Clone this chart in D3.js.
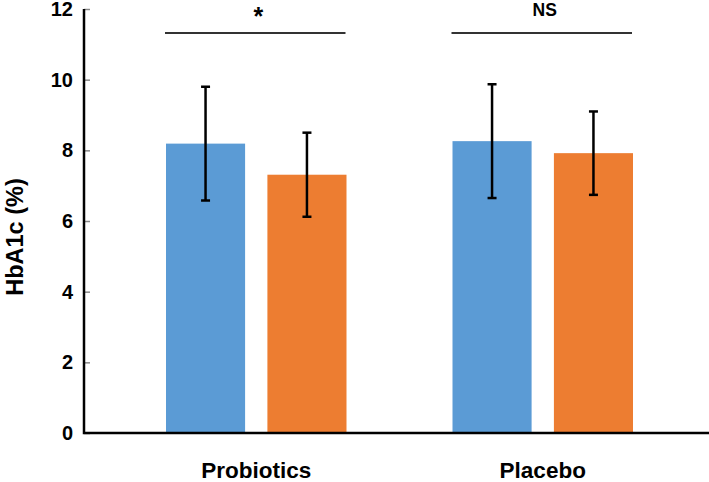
<!DOCTYPE html>
<html>
  <head>
    <meta charset="utf-8">
    <title>HbA1c</title>
    <style media="screen">
      body {margin:0; background:#fff}
      text {font-family: "Liberation Sans", Arial, sans-serif; font-weight: bold}
    </style>
  </head>
  <body>
    <script src="https://cdn.jsdelivr.net/npm/d3@7/dist/d3.min.js"></script>
    <script type="text/javascript">

    const groups = ['Probiotics', 'Placebo']
    const series = ['before', 'after']
    const means = {before: [8.19, 8.26], after: [7.31, 7.92]}
    const sds = {before: [1.61, 1.61], after: [1.19, 1.18]}
    const sig = ['*', 'NS']
    const yTicks = [0, 2, 4, 6, 8, 10, 12]

    const colors = {before: '#5b9bd5', after: '#ed7d31'}

    const w = 709, h = 482

    const svg = d3.select('body').append('svg')
      .attr('width', w)
      .attr('height', h)

    const y = d3.scaleLinear().domain([0, 12]).range([433, 9])

    const x0 = d3.scaleBand().domain(groups).range([166, 633]).paddingInner(0.37)
    const x1 = d3.scaleBand().domain(series).range([0, x0.bandwidth()]).paddingInner(0.22)

    // bars
    const rows = []
    groups.forEach((g, i) => series.forEach(s => rows.push({g, s, v: means[s][i], e: sds[s][i]})))

    svg.append('g').selectAll('rect').data(rows).join('rect')
      .attr('x', d => x0(d.g) + x1(d.s))
      .attr('y', d => y(d.v))
      .attr('width', x1.bandwidth())
      .attr('height', d => y(0) - y(d.v))
      .attr('fill', d => colors[d.s])

    // error bars
    const eb = svg.append('g').attr('stroke', '#000').attr('stroke-width', 2.5)
    rows.forEach(d => {
      const cx = x0(d.g) + x1(d.s) + x1.bandwidth() / 2
      eb.append('line').attr('x1', cx).attr('x2', cx).attr('y1', y(d.v - d.e)).attr('y2', y(d.v + d.e))
      eb.append('line').attr('x1', cx - 4.5).attr('x2', cx + 4.5).attr('y1', y(d.v + d.e)).attr('y2', y(d.v + d.e))
      eb.append('line').attr('x1', cx - 4.5).attr('x2', cx + 4.5).attr('y1', y(d.v - d.e)).attr('y2', y(d.v - d.e))
    })

    // y axis
    const yAxis = svg.append('g')
      .attr('transform', 'translate(84,0)')
      .call(d3.axisLeft(y).tickValues(yTicks).tickSize(-6).tickPadding(11))
    yAxis.select('.domain').remove()
    yAxis.selectAll('.tick line').attr('stroke', '#888').attr('stroke-width', 1.5)
    yAxis.selectAll('.tick text').attr('font-size', 20).attr('fill', '#000')
      .style('font-family', '"Liberation Sans", Arial, sans-serif').style('font-weight', 'bold')

    svg.append('path')
      .attr('d', `M84,${y(12)}V${y(0)}H709`)
      .attr('fill', 'none')
      .attr('stroke', '#000')
      .attr('stroke-width', 2.5)

    // category labels
    svg.append('g').selectAll('text').data(groups).join('text')
      .attr('x', d => x0(d) + x0.bandwidth() / 2)
      .attr('y', 478)
      .attr('text-anchor', 'middle')
      .attr('font-size', 22.5)
      .text(d => d)

    // significance
    svg.append('g').selectAll('line').data(groups).join('line')
      .attr('x1', d => x0(d) - 1)
      .attr('x2', d => x0(d) + x0.bandwidth() - 1)
      .attr('y1', 33).attr('y2', 33)
      .attr('stroke', '#333')
      .attr('stroke-width', 2)

    svg.append('g').selectAll('text').data(groups).join('text')
      .attr('x', d => x0(d) + x0.bandwidth() / 2 + 2)
      .attr('y', (d, i) => i ? 16 : 25)
      .attr('text-anchor', 'middle')
      .attr('font-size', (d, i) => i ? 17.5 : 25)
      .text((d, i) => sig[i])

    // y title
    svg.append('text')
      .attr('transform', 'translate(23,237) rotate(-90)')
      .attr('text-anchor', 'middle')
      .attr('font-size', 23.5)
      .text('HbA1c (%)')

    </script>
  </body>
</html>
